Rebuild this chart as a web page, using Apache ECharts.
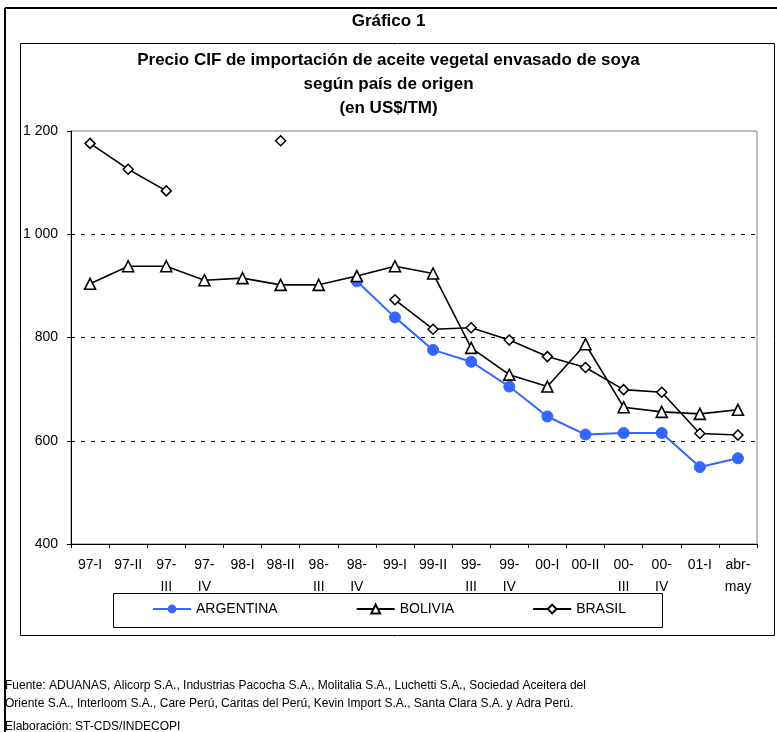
<!DOCTYPE html>
<html>
<head>
<meta charset="utf-8">
<script src="https://cdn.jsdelivr.net/npm/echarts@6/dist/echarts.min.js"></script>
<style>
html,body{margin:0;padding:0;background:#fff;}
#chart{width:777px;height:732px;}
</style>
</head>
<body>
<div id="chart"></div>
<script>
const categories = ["97-I","97-II","97-\nIII","97-\nIV","98-I","98-II","98-\nIII","98-\nIV","99-I","99-II","99-\nIII","99-\nIV","00-I","00-II","00-\nIII","00-\nIV","01-I","abr-\nmay"];
const argentina = [null,null,null,null,null,null,null,909,839,776,753,705,647,612,615,615,549,566];
const bolivia = [904,938,938,911,915,902,902,919,938,924,780,728,705,787,665,656,652,660];
const brasil = [1176,1126,1084,null,null,1181,null,null,873,816,819,795,763,742,699,694,614,611];
const yTicks = [400,600,800,1000,1200];
const yTickLabels = ["400","600","800","1 000","1 200"];
const gridValues = [600,800,1000];

const FONT = "'Liberation Sans', Arial, sans-serif";
const chart = echarts.init(document.getElementById('chart'));

const option = {
  animation: false,
  backgroundColor: '#ffffff',
  textStyle: {fontFamily: FONT, color: '#000'},
  title: [
    {text: 'Gráfico 1', left: 'center', top: 8,
     textStyle: {fontFamily: FONT, fontSize: 17, fontWeight: 'bold', color: '#000'}},
    {text: 'Precio CIF de importación de aceite vegetal envasado de soya\nsegún país de origen\n(en US$/TM)',
     left: 'center', top: 43,
     textStyle: {fontFamily: FONT, fontSize: 17, fontWeight: 'bold', color: '#000', lineHeight: 24, align: 'center'}}
  ],
  grid: {left: 71, right: 20, top: 131, bottom: 188, show: true, borderColor: '#808080', borderWidth: 1, backgroundColor: 'transparent'},
  legend: {
    left: 152, top: 602, padding: 0, itemGap: 78, itemWidth: 38, itemHeight: 11,
    textStyle: {fontFamily: FONT, fontSize: 14, color: '#000'},
    data: ['ARGENTINA','BOLIVIA','BRASIL']
  },
  xAxis: {
    type: 'category', data: categories, boundaryGap: true,
    axisLine: {lineStyle: {color: '#000', width: 1}},
    axisTick: {show: true, length: 4, lineStyle: {color: '#000'}},
    axisLabel: {interval: 0, color: '#000', fontFamily: FONT, fontSize: 14, lineHeight: 22, margin: 10}
  },
  yAxis: {
    type: 'value', min: 400, max: 1200, interval: 200,
    axisLine: {show: true, lineStyle: {color: '#000', width: 1}},
    axisTick: {show: true, length: 4, lineStyle: {color: '#000'}},
    splitLine: {show: false},
    axisLabel: {color: '#000', fontFamily: FONT, fontSize: 14, margin: 13,
      formatter: v => yTickLabels[yTicks.indexOf(v)]}
  },
  series: [
    {name: 'ARGENTINA', type: 'line', data: argentina, connectNulls: false,
     symbol: 'circle', symbolSize: 11, showAllSymbol: true,
     lineStyle: {color: '#3366FF', width: 2},
     itemStyle: {color: '#3366FF', borderColor: '#3366FF'},
     markLine: {silent: true, symbol: 'none', label: {show: false},
       lineStyle: {color: '#000', type: [4,6], width: 1},
       data: gridValues.map(v => ({yAxis: v})), z: 1}
    },
    {name: 'BOLIVIA', type: 'line', data: bolivia, connectNulls: false,
     symbol: 'triangle', symbolSize: 11, showAllSymbol: true,
     lineStyle: {color: '#000', width: 1.6},
     itemStyle: {color: '#fff', borderColor: '#000', borderWidth: 1.6}
    },
    {name: 'BRASIL', type: 'line', data: brasil, connectNulls: false,
     symbol: 'diamond', symbolSize: 10, showAllSymbol: true,
     lineStyle: {color: '#000', width: 1.6},
     itemStyle: {color: '#fff', borderColor: '#000', borderWidth: 1.5}
    }
  ],
  graphic: [
    {type: 'line', shape: {x1: 5, y1: 8, x2: 777, y2: 8}, style: {stroke: '#000', lineWidth: 2}, silent: true},
    {type: 'line', shape: {x1: 5, y1: 8, x2: 5, y2: 732}, style: {stroke: '#000', lineWidth: 2}, silent: true},
    {type: 'rect', shape: {x: 20.5, y: 43.5, width: 754, height: 592}, style: {fill: 'none', stroke: '#000', lineWidth: 1}, silent: true, z: -1},
    {type: 'rect', shape: {x: 113.5, y: 593.5, width: 549, height: 34}, style: {fill: 'none', stroke: '#000', lineWidth: 1}, silent: true},
    {type: 'text', left: 5, top: 677, style: {text: 'Fuente: ADUANAS, Alicorp S.A., Industrias Pacocha S.A., Molitalia S.A., Luchetti S.A., Sociedad Aceitera del\nOriente S.A., Interloom S.A., Care Perú, Caritas del Perú, Kevin Import S.A., Santa Clara S.A. y Adra Perú.', font: '12px ' + FONT, fill: '#000', lineHeight: 18}, silent: true},
    {type: 'text', left: 5, top: 721, style: {text: 'Elaboración: ST-CDS/INDECOPI', font: '12px ' + FONT, fill: '#000'}, silent: true}
  ]
};
chart.setOption(option);
</script>
</body>
</html>
